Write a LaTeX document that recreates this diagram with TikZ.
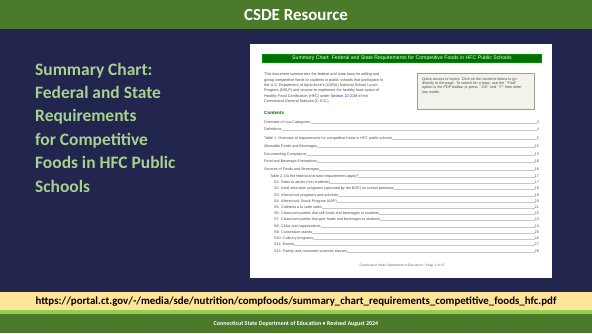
\documentclass[tikz,border=0pt]{standalone}
\usepackage{fontspec}
\setmainfont{Carlito}
\newfontfamily\docfont{Liberation Sans}
\definecolor{csdegreen}{RGB}{74,122,42}
\definecolor{navy}{RGB}{34,37,77}
\definecolor{titlegreen}{RGB}{169,209,142}
\definecolor{urlyellow}{RGB}{255,229,153}
\definecolor{linegreen}{RGB}{146,208,80}
\definecolor{docgreen}{RGB}{0,110,0}
\definecolor{boxfill}{RGB}{243,243,236}
\definecolor{boxline}{RGB}{160,160,130}
\definecolor{linkblue}{RGB}{40,40,200}
\tikzset{
  doctext/.style={font=\docfont\fontsize{3.7}{4.4}\selectfont, text=black!70, inner sep=0},
  leader/.style={gray!45, line width=0.3bp, dash pattern=on 0.3bp off 0.4bp},
}
\begin{document}
\begin{tikzpicture}[x=1bp, y=-1bp]

\useasboundingbox (0,0) rectangle (592,333);
\fill[navy] (0,0) rectangle (592,333);
\fill[csdegreen] (0,0) rectangle (592,29);
\fill[urlyellow] (0,292) rectangle (592,310);
\fill[linegreen] (0,310) rectangle (592,314);
\fill[csdegreen] (0,314) rectangle (592,333);

\node[text=white, font=\bfseries\fontsize{17}{20}\selectfont] (header) at (296,15) {CSDE Resource};

\foreach \t [count=\i] in {Summary Chart:, Federal and State, Requirements, for Competitive, Foods in HFC Public, Schools} {
  \node[anchor=base west, inner sep=0, text=titlegreen, font=\bfseries\fontsize{17.5}{21}\selectfont] (title\i) at (35,75+23.4*\i-23.4) {\t};
}

\node[font=\bfseries\fontsize{10.9}{13}\selectfont] (url) at (296,301.5) {https://portal.ct.gov/-/media/sde/nutrition/compfoods/summary\_chart\_requirements\_competitive\_foods\_hfc.pdf};
\node[text=white, font=\bfseries\fontsize{6}{7}\selectfont] (footer) at (296,323.5) {Connecticut State Department of Education \textbullet{} Revised August 2024};

\fill[white] (250,44) rectangle (552,278);
\node[fill=docgreen, draw=green!55!black, line width=0.6bp, minimum width=279bp, minimum height=8.5bp, inner sep=0, text=white, font=\docfont\fontsize{5.2}{6}\selectfont] (banner) at (402,58.3) {Summary Chart: Federal and State Requirements for Competitive Foods in HFC Public Schools};

\node[doctext, anchor=north west, align=left, font=\docfont\fontsize{3.8}{5.4}\selectfont] (intro) at (264,72.8) {This document summarizes the federal and state laws for selling and\\
giving competitive foods to students in public schools that participate in\\
the U.S. Department of Agriculture's (USDA) National School Lunch\\
Program (NSLP) and choose to implement the healthy food option of\\
Healthy Food Certification (HFC) under \textcolor{linkblue}{Section 10-215f} of the\\
Connecticut General Statutes (C.G.S.).};

\node[draw=boxline, fill=boxfill, line width=0.5bp, minimum width=117bp, minimum height=36bp] (quick) at (475.5,91) {};
\node[doctext, anchor=north west, align=left, font=\docfont\fontsize{3.75}{4.4}\selectfont] (quicktext) at (422,77.3) {Quick access to topics: Click on the contents below to go\\
directly to the page. To search for a topic, use the ``Find''\\
option in the PDF toolbar or press ``Ctrl'' and ``F,'' then enter\\
key words.};

\node[anchor=base west, inner sep=0, text=docgreen, font=\docfont\bfseries\fontsize{4.6}{5}\selectfont] (contents) at (264,114.5) {Contents};

\foreach \y/\x/\t/\p [count=\i] in {
  123/264/{Overview of Law Categories}/3,
  130.5/264/{Definitions}/4,
  139/264/{Table 1. Overview of requirements for competitive foods in HFC public schools}/5,
  147.5/264/{Allowable Foods and Beverages}/15,
  155/264/{Documenting Compliance}/15,
  162.5/264/{Food and Beverage Exemptions}/16,
  170.5/264/{Sources of Foods and Beverages}/16,
  177/270/{Table 2. Do the federal and state requirements apply?}/17,
  183.5/274/{S1: Sales to adults (non-students)}/17,
  189.5/274/{S2: Adult education programs (operated by the BOE) on school premises}/18,
  196/274/{S3: Afterschool programs and activities}/19,
  202/274/{S4: Afterschool Snack Program (ASP)}/20,
  208.5/274/{S5: Cafeteria a la carte sales}/21,
  214.5/274/{S6: Classroom parties that sell foods and beverages to students}/22,
  220.5/274/{S7: Classroom parties that give foods and beverages to students}/23,
  227/274/{S8: Clubs and organizations}/24,
  233/274/{S9: Concession stands}/25,
  239.5/274/{S10: Culinary programs}/26,
  245.5/274/{S11: Events}/27,
  252/274/{S12: Family and consumer sciences classes}/28} {
  \node[doctext, anchor=base west] (toc\i) at (\x,\y) {\t};
  \node[doctext, anchor=base east] (pg\i) at (539,\y) {\p};
  \draw[leader] (toc\i.base east) -- (pg\i.base west);
}

\node[doctext, font=\docfont\fontsize{3.3}{4}\selectfont, text=black!60] (pagefoot) at (402,266) {Connecticut State Department of Education \textbullet{} Page 1 of 47};

\end{tikzpicture}
\end{document}
